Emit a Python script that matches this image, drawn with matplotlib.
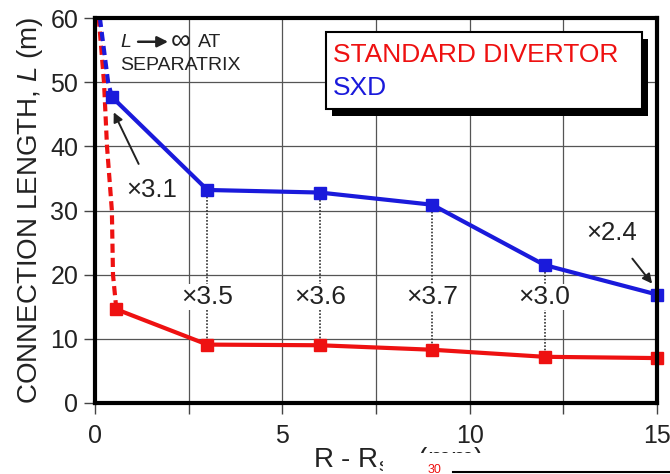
import matplotlib.pyplot as plt
import matplotlib.patches as patches

plt.rcParams['font.family'] = ['Liberation Sans', 'DejaVu Sans']
plt.rcParams['mathtext.fontset'] = 'custom'
plt.rcParams['mathtext.rm'] = 'Liberation Sans'
plt.rcParams['mathtext.it'] = 'Liberation Sans:italic'

# measured points (R - Rsep in mm, connection length in m)
r_std = [0.57, 3, 6, 9, 12, 15]
L_std = [14.6, 9.1, 9.0, 8.3, 7.2, 7.0]
r_sxd = [0.45, 3, 6, 9, 12, 15]
L_sxd = [47.7, 33.2, 32.8, 30.9, 21.5, 16.9]

# extrapolation towards the separatrix
r_std_ext = [0.57, 0.48, 0.45, 0.32, 0.24, 0.10]
L_std_ext = [14.6, 20, 30, 40, 50, 60]
r_sxd_ext = [0.45, 0.35, 0.13]
L_sxd_ext = [47.7, 50, 60]

# flux expansion ratios between the two configurations
ratio_r = [3, 6, 9, 12]
ratio_txt = ['×3.5', '×3.6', '×3.7', '×3.0']
ratio_y = 16.5

RED = '#ee1111'
BLUE = '#1a1adb'
TXT = '#222222'

fig = plt.figure(figsize=(6.7, 4.74), dpi=100)
ax = fig.add_axes([0.1418, 0.1498, 0.8388, 0.8122])

ax.set_xlim(0, 15)
ax.set_ylim(0, 60)
ax.set_xticks([0, 5, 10, 15])
ax.set_xticks([2.5, 7.5, 12.5], minor=True)
ax.set_yticks(range(0, 61, 10))
ax.grid(True, which='both', color='#555555', linewidth=0.9, zorder=0)
ax.tick_params(which='both', direction='out', length=8, width=1.0, colors='#444444',
               labelcolor=TXT, labelsize=18, pad=4)
ax.tick_params(axis='x', pad=7)
for s in ax.spines.values():
    s.set_linewidth(3)
    s.set_color('black')
    s.set_zorder(6)

# dotted connectors between the two curves
for x, t in zip(ratio_r, ratio_txt):
    ys = L_std[r_std.index(x)]
    yb = L_sxd[r_sxd.index(x)]
    ax.plot([x, x], [ys, yb], color='#333333', linestyle=(0, (1, 1)), linewidth=1.2, zorder=2)
    ax.text(x, ratio_y, t, ha='center', va='center', fontsize=19, color=TXT, zorder=3,
            bbox=dict(facecolor='white', edgecolor='none', pad=1))

ax.plot(r_std_ext, L_std_ext, color=RED, linestyle=(0, (2.2, 1.2)), linewidth=3, zorder=4)
ax.plot(r_sxd_ext, L_sxd_ext, color=BLUE, linestyle=(0, (2.2, 1.2)), linewidth=3, zorder=4)
ax.plot(r_std, L_std, color=RED, linewidth=3, marker='s', markersize=8, zorder=5, clip_on=False)
ax.plot(r_sxd, L_sxd, color=BLUE, linewidth=3, marker='s', markersize=8, zorder=5, clip_on=False)

ax.annotate('×3.1', xy=(0.5, 45.3), xytext=(1.5, 33.2), ha='center', va='center',
            fontsize=18.5, color=TXT, zorder=6,
            arrowprops=dict(arrowstyle='-|>', color='#222222', lw=1.4, shrinkA=9,
                            shrinkB=0, mutation_scale=14))
ax.annotate('×2.4', xy=(14.87, 18.6), xytext=(13.8, 26.5), ha='center', va='center',
            fontsize=18.5, color=TXT, zorder=6,
            arrowprops=dict(arrowstyle='-|>', color='#222222', lw=1.4, shrinkA=10,
                            shrinkB=0, mutation_scale=14))

# "L -> infinity AT SEPARATRIX" note
ax.text(0.68, 56.2, 'L', style='italic', ha='left', va='center', fontsize=14, color=TXT, zorder=6)
ax.annotate('', xy=(1.95, 56.3), xytext=(1.15, 56.3),
            arrowprops=dict(arrowstyle='-|>', color=TXT, lw=1.8, shrinkA=0, shrinkB=0,
                            mutation_scale=16))
ax.text(2.02, 56.2, '∞', ha='left', va='center', fontsize=20, color=TXT, zorder=6)
ax.text(2.75, 56.2, 'AT', ha='left', va='center', fontsize=14, color=TXT, zorder=6)
ax.text(0.68, 52.6, 'SEPARATRIX', ha='left', va='center', fontsize=14, color=TXT, zorder=6)

# legend box with drop shadow
lx0, ly0, lw, lh = 326 / 670, 1 - 109 / 474, 316 / 670, 77 / 474
fig.patches.append(patches.Rectangle((lx0 + 6 / 670, ly0 - 7 / 474), lw, lh,
                                     transform=fig.transFigure, facecolor='black',
                                     edgecolor='none', zorder=7))
fig.patches.append(patches.Rectangle((lx0, ly0), lw, lh, transform=fig.transFigure,
                                     facecolor='white', edgecolor='black', linewidth=1.5,
                                     zorder=8))
fig.text(lx0 + 7 / 670, 1 - 55 / 474, 'STANDARD DIVERTOR', color=RED, fontsize=19,
         ha='left', va='center', zorder=9)
fig.text(lx0 + 7 / 670, 1 - 88 / 474, 'SXD', color=BLUE, fontsize=19,
         ha='left', va='center', zorder=9)

ax.set_ylabel('CONNECTION LENGTH, $\\mathit{L}$ (m)', fontsize=20, color=TXT, labelpad=4)
fig.text(398 / 670, 1 - 462 / 474, 'R - R$_{\\mathrm{sep}}$ (mm)', ha='center', va='center',
         fontsize=20, color=TXT)

# strip of the next panel overlapping the bottom edge
fig.patches.append(patches.Rectangle((383 / 670, 0), 1 - 383 / 670, 21 / 474,
                                     transform=fig.transFigure, facecolor='white',
                                     edgecolor='none', zorder=10))
fig.text(428 / 670, 1 - 464 / 474, '30', color=RED, fontsize=9, ha='left', va='top', zorder=11)
fig.lines.append(plt.Line2D([453 / 670, 1], [2 / 474, 2 / 474], transform=fig.transFigure,
                            color='black', linewidth=1.5, zorder=11))

fig.savefig('out.png', dpi=100)
